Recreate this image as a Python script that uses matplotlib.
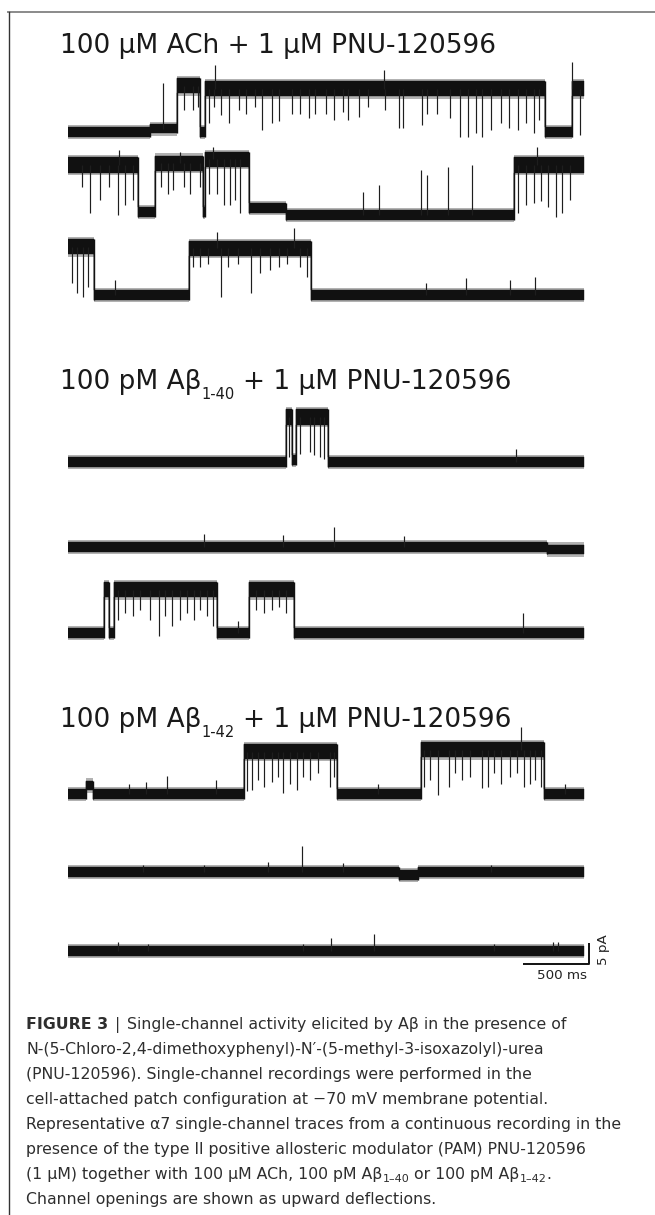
import numpy as np
import matplotlib
matplotlib.use("Agg")
import matplotlib.pyplot as plt
from matplotlib.lines import Line2D

# single-channel traces, closed level = 0 pA, openings upward
# step times (s) and the current level (pA) held from each step to the next
# events = brief excursions (closing flickers / spikes): time (s) and level reached (pA)

# 100 uM ACh + PNU
ach_r1_t = [0, 0.634, 0.842, 1.019, 1.051, 3.670, 3.879, 3.969]
ach_r1_lvl = [0, 0.8, 11.0, 0, 10.3, 0, 10.3]
ach_r1_ev_t = [0.730, 0.891, 0.962, 1.003, 1.084, 1.125, 1.132, 1.180, 1.238, 1.315,
               1.366, 1.437, 1.495, 1.566, 1.623, 1.726, 1.784, 1.855, 1.903, 1.983,
               2.048, 2.112, 2.150, 2.240, 2.305, 2.433, 2.440, 2.546, 2.578, 2.722,
               2.761, 2.835, 2.941, 3.012, 3.076, 3.140, 3.188, 3.253, 3.333, 3.391,
               3.461, 3.526, 3.583, 3.622, 3.879, 3.937]
ach_r1_ev = [11.6, 5.2, 5.2, 6.0, 2.1, 6.0, 16.0, 4.0, 2.1, 5.2,
             4.4, 6.0, 0.5, 2.1, 2.5, 4.4, 4.4, 3.3, 4.4, 4.4,
             2.9, 4.8, 2.9, 3.6, 6.0, 14.8, 5.2, 0.9, 0.9, 1.7,
             4.4, 4.4, 3.3, -1.1, -1.1, -0.3, -1.1, 0.5, 2.1, 0.9,
             0.5, 2.1, -0.3, 2.9, 16.7, -0.7]

ach_r2_t = [0, 0.537, 0.672, 1.035, 1.051, 1.389, 1.678, 3.429, 3.969]
ach_r2_lvl = [11.2, 0, 11.6, 0, 12.5, 0.9, -0.7, 11.2]
ach_r2_ev_t = [0.104, 0.168, 0.248, 0.319, 0.386, 0.390, 0.441, 0.499, 0.714, 0.769,
               0.810, 0.859, 0.891, 0.939, 1.013, 1.084, 1.116, 1.148, 1.203, 1.244,
               1.283, 1.325, 2.273, 2.395, 2.716, 2.761, 2.922, 3.108, 3.461, 3.526,
               3.583, 3.606, 3.638, 3.696, 3.751, 3.799, 3.863]
ach_r2_ev = [6.0, -0.3, 2.9, 6.0, -0.7, 14.8, 1.7, 2.9, 6.0, 4.4,
             5.2, 14.4, 6.0, 4.4, 6.0, 4.4, 15.5, 4.4, 1.7, 1.7,
             2.9, -0.3, 4.8, 6.4, 10.0, 8.8, 10.8, 11.2, -0.3, 1.7,
             2.1, 15.5, 2.5, 1.3, -1.1, -0.3, 2.9]

ach_r3_t = [0, 0.200, 0.929, 1.871, 3.969]
ach_r3_lvl = [11.5, 0, 11.1, 0]
ach_r3_ev_t = [0.030, 0.071, 0.113, 0.152, 0.364, 0.962, 1.019, 1.077, 1.148, 1.174,
               1.228, 1.309, 1.405, 1.476, 1.550, 1.623, 1.688, 1.736, 1.784, 1.839,
               2.754, 3.060, 3.397, 3.596]
ach_r3_ev = [2.8, 0.4, -0.4, 2.0, 3.6, 6.7, 6.7, 7.5, 15.1, -0.4,
             6.7, 7.5, 0.4, 5.2, 6.0, 6.7, 7.5, 15.9, 6.7, 4.4,
             2.8, 4.0, 3.6, 4.4]

# 100 pM Abeta 1-40 + PNU
ab40_r1_t = [0, 1.678, 1.726, 1.752, 1.999, 3.969]
ab40_r1_lvl = [0, 10.7, 0.5, 10.7, 0]
ab40_r1_ev_t = [1.700, 1.781, 1.861, 1.893, 1.935, 1.967, 3.445]
ab40_r1_ev = [1.2, 2.0, 2.4, 1.6, 1.2, 0.8, 3.2]

ab40_r2_t = [0, 3.686, 3.969]
ab40_r2_lvl = [0, -0.6]
ab40_r2_ev_t = [1.045, 1.656, 2.048, 2.587]
ab40_r2_ev = [3.2, 2.8, 4.8, 2.6]

ab40_r3_t = [0, 0.280, 0.319, 0.351, 1.148, 1.389, 1.736, 3.969]
ab40_r3_lvl = [0, 10.3, 0, 10.3, 0, 10.3, 0]
ab40_r3_ev_t = [0.383, 0.435, 0.499, 0.553, 0.627, 0.698, 0.746, 0.801, 0.859, 0.917,
                0.971, 1.019, 1.068, 1.116, 1.309, 1.444, 1.508, 1.566, 1.623, 1.678,
                3.503]
ab40_r3_ev = [3.2, 4.8, 4.0, 5.5, 3.2, -0.8, 4.0, 1.6, 3.2, 4.8,
              3.2, 5.5, 4.0, 1.6, 2.8, 5.5, 4.8, 5.5, 6.3, 4.8,
              4.8]

# 100 pM Abeta 1-42 + PNU
ab42_r1_t = [0, 0.136, 0.190, 1.350, 2.073, 2.716, 3.661, 3.969]
ab42_r1_lvl = [0, 2.0, 0, 10.1, 0, 10.5, 0]
ab42_r1_ev_t = [0.467, 0.602, 0.762, 1.138, 1.379, 1.415, 1.463, 1.508, 1.566, 1.614,
                1.656, 1.710, 1.758, 1.807, 1.861, 1.925, 2.015, 2.048, 2.385, 2.738,
                2.787, 2.844, 2.931, 2.979, 3.028, 3.092, 3.188, 3.230, 3.275, 3.333,
                3.397, 3.455, 3.487, 3.510, 3.551, 3.590, 3.638, 3.821]
ab42_r1_ev = [2.5, 2.9, 4.3, 3.3, 0.6, 1.0, 3.3, 1.7, 2.9, 4.1,
              0.2, 2.5, 1.0, 4.1, 3.3, 4.9, 1.7, 4.1, 2.4, 1.7,
              3.3, -0.2, 1.7, 4.9, 3.3, 4.1, 1.4, 1.7, 4.9, 2.5,
              4.1, 4.9, 15.9, 1.7, 2.5, 3.3, 1.7, 2.4]

ab42_r2_t = [0, 2.546, 2.690, 3.969]
ab42_r2_lvl = [0, -0.7, 0]
ab42_r2_ev_t = [0.576, 1.045, 1.540, 1.803, 2.112, 3.253]
ab42_r2_ev = [1.7, 1.7, 2.5, 6.3, 2.1, 1.7]

ab42_r3_t = [0, 3.969]
ab42_r3_lvl = [0]
ab42_r3_ev_t = [0.386, 0.618, 1.810, 2.025, 2.353, 3.278, 3.734, 3.767]
ab42_r3_ev = [2.1, 1.7, 1.7, 3.0, 4.1, 1.7, 2.1, 2.1]

titles = ["100 µM ACh + 1 µM PNU-120596",
          ("100 pM Aβ", "1-40", "+ 1 µM PNU-120596"),
          ("100 pM Aβ", "1-42", "+ 1 µM PNU-120596")]

caption = ["Single-channel activity elicited by Aβ in the presence of",
           "N-(5-Chloro-2,4-dimethoxyphenyl)-N′-(5-methyl-3-isoxazolyl)-urea",
           "(PNU-120596). Single-channel recordings were performed in the",
           "cell-attached patch configuration at −70 mV membrane potential.",
           "Representative α7 single-channel traces from a continuous recording in the",
           "presence of the type II positive allosteric modulator (PAM) PNU-120596",
           None,
           "Channel openings are shown as upward deflections."]

W, H = 655, 1215
PX_S = 130.0     # px per second
PX_PA = 4.2      # px per pA
X0 = 68
T_END = 3.969
YLO, YHI = -6, 18
TRACE = "#111111"

plt.rcParams['font.family'] = ['DejaVu Sans']
fig = plt.figure(figsize=(W / 100, H / 100), dpi=100)
renderer = fig.canvas.get_renderer()


def row_axes(base_px):
    bottom = 1 - (base_px - YLO * PX_PA) / H
    ax = fig.add_axes([X0 / W, bottom, T_END * PX_S / W, (YHI - YLO) * PX_PA / H])
    ax.set_xlim(0, T_END)
    ax.set_ylim(YLO, YHI)
    ax.axis('off')
    return ax


def hw(level):
    return 1.8 if level > 5 else 1.15


def draw_trace(ax, t, lvl, ev_t, ev):
    t = np.asarray(t, float)
    lvl = np.asarray(lvl, float)
    w = np.array([hw(v) for v in lvl])
    lv = np.append(lvl, lvl[-1])
    ww = np.append(w, w[-1])
    # soft halo for the noisy edge, then the solid noise band
    ax.fill_between(t, lv - ww - 0.55, lv + ww + 0.55, step='post', color="#555555",
                    alpha=0.45, lw=0)
    ax.fill_between(t, lv - ww, lv + ww, step='post', color=TRACE, lw=0.3, edgecolor=TRACE)
    for i in range(1, len(lvl)):
        a, b = lvl[i - 1], lvl[i]
        ax.vlines(t[i], min(a - hw(a), b - hw(b)), max(a + hw(a), b + hw(b)),
                  color=TRACE, lw=1.0)
    idx = np.searchsorted(t, ev_t, side='right') - 1
    cur = lvl[np.clip(idx, 0, len(lvl) - 1)]
    ax.vlines(ev_t, np.minimum(cur, ev), np.maximum(cur, ev), color="#1e1e1e", lw=0.85)


rows = [
    (132, ach_r1_t, ach_r1_lvl, ach_r1_ev_t, ach_r1_ev),
    (212, ach_r2_t, ach_r2_lvl, ach_r2_ev_t, ach_r2_ev),
    (295, ach_r3_t, ach_r3_lvl, ach_r3_ev_t, ach_r3_ev),
    (462, ab40_r1_t, ab40_r1_lvl, ab40_r1_ev_t, ab40_r1_ev),
    (547, ab40_r2_t, ab40_r2_lvl, ab40_r2_ev_t, ab40_r2_ev),
    (633, ab40_r3_t, ab40_r3_lvl, ab40_r3_ev_t, ab40_r3_ev),
    (794, ab42_r1_t, ab42_r1_lvl, ab42_r1_ev_t, ab42_r1_ev),
    (872, ab42_r2_t, ab42_r2_lvl, ab42_r2_ev_t, ab42_r2_ev),
    (951, ab42_r3_t, ab42_r3_lvl, ab42_r3_ev_t, ab42_r3_ev),
]
for base, t, lvl, et, ev in rows:
    ax = row_axes(base)
    draw_trace(ax, t, lvl, et, ev)

# scale bar on the last row: 500 ms, 5 pA
ax.plot([3.50, 4.008, 4.008], [-3.17, -3.17, 1.83], color=TRACE, lw=1.4,
        clip_on=False, solid_capstyle='butt')
ax.text(3.80, -6.7, "500 ms", fontsize=9.7, color="#222222", ha='center', va='baseline')
ax.text(4.123, 0.4, "5 pA", fontsize=9.7, color="#222222", rotation=90,
        ha='center', va='center')


def rich_text(x_px, y_px, pieces, color):
    x = x_px
    for gap, s, size, dy, weight in pieces:
        x += gap
        txt = fig.text(x / W, 1 - (y_px + dy) / H, s, fontsize=size,
                       fontweight=weight, color=color, ha='left', va='baseline')
        x = txt.get_window_extent(renderer).x1


TS = 19
rich_text(60, 53, [(0, titles[0], TS, 0, 'normal')], "#1a1a1a")
for (a, sub, b), yb in zip(titles[1:], [389, 727]):
    rich_text(60, yb, [(0, a, TS, 0, 'normal'), (0, sub, 10.5, 10, 'normal'),
                       (8, b, TS, 0, 'normal')], "#1a1a1a")

CS = 11.35
CC = "#2e2e2e"
for i, line in enumerate(caption):
    yb = 1029 + 25 * i
    if i == 0:
        rich_text(26, yb, [(0, "FIGURE 3", CS, 0, 'bold'), (7, "|", CS, 0, 'normal'),
                           (7, line, CS, 0, 'normal')], CC)
    elif line is None:
        rich_text(26, yb, [(0, "(1 µM) together with 100 µM ACh, 100 pM Aβ", CS, 0, 'normal'),
                           (0.5, "1–40", 8, 3, 'normal'),
                           (4, "or 100 pM Aβ", CS, 0, 'normal'),
                           (0.5, "1–42", 8, 3, 'normal'),
                           (0, ".", CS, 0, 'normal')], CC)
    else:
        rich_text(26, yb, [(0, line, CS, 0, 'normal')], CC)

# frame of the figure panel
fig.add_artist(Line2D([8 / W, 1], [1 - 12 / H, 1 - 12 / H], color="#8a8a8a", lw=1.4))
fig.add_artist(Line2D([9 / W, 9 / W], [0, 1 - 12 / H], color="#333333", lw=1.0))

fig.savefig("out.png", dpi=100)
